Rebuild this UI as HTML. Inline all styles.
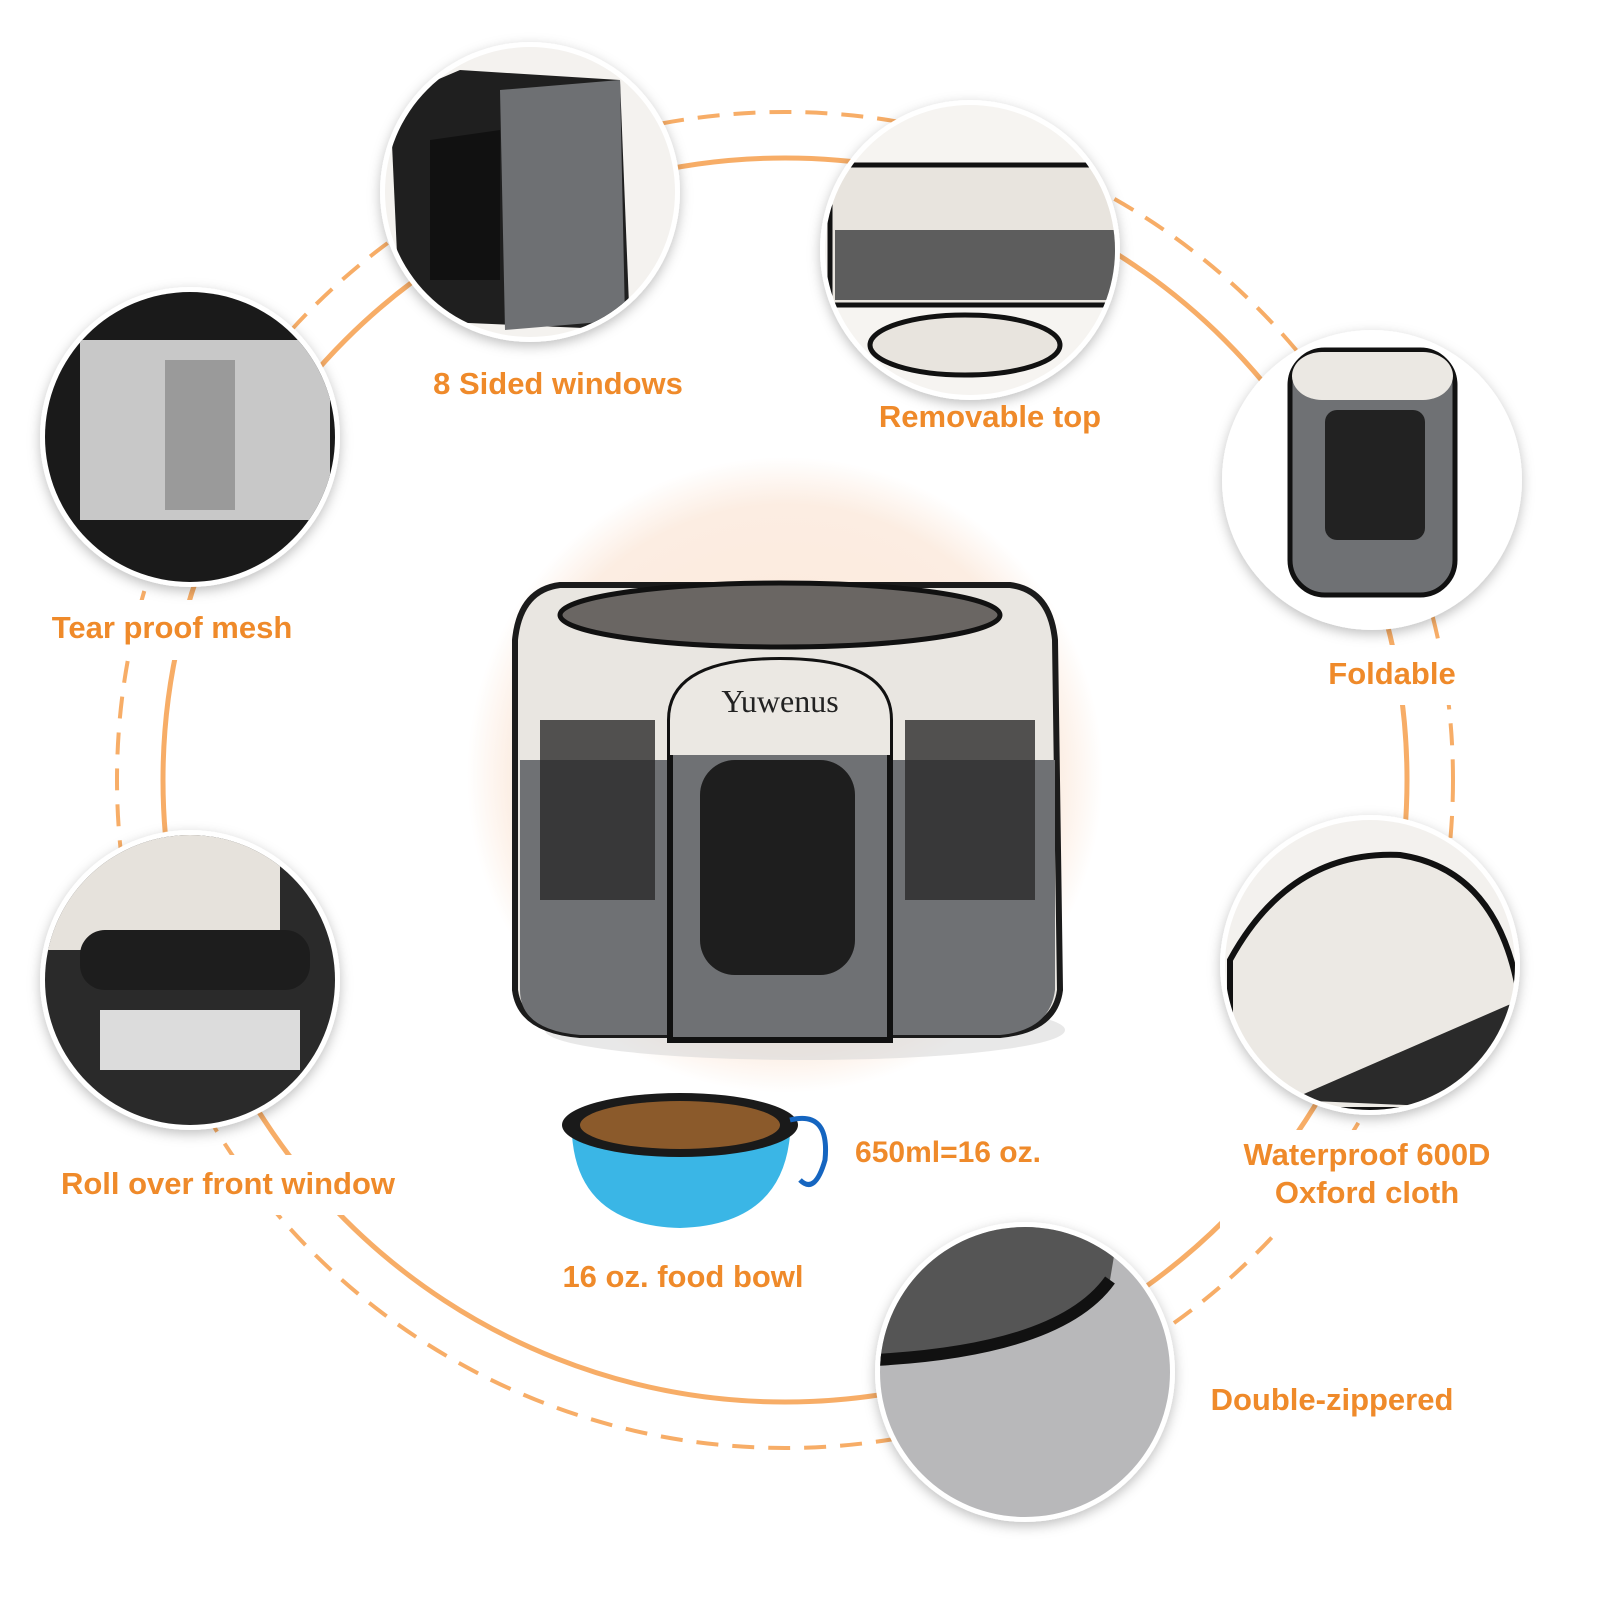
<!DOCTYPE html>
<html><head><meta charset="utf-8"><style>
html,body{margin:0;padding:0;background:#fff;}
body{width:1600px;height:1600px;overflow:hidden;}
text{font-family:"Liberation Sans",sans-serif;font-weight:bold;fill:#ef8a2a;}
</style></head><body>
<svg width="1600" height="1600" viewBox="0 0 1600 1600" xmlns="http://www.w3.org/2000/svg">
<defs>
<radialGradient id="peach" cx="50%" cy="50%" r="50%">
<stop offset="0" stop-color="#fbe7d8"/><stop offset="0.85" stop-color="#fcede2"/><stop offset="1" stop-color="#fff"/>
</radialGradient>
<filter id="sh" x="-20%" y="-20%" width="140%" height="140%"><feDropShadow dx="0" dy="4" stdDeviation="6" flood-color="#000" flood-opacity="0.25"/></filter>
<clipPath id="c1"><circle cx="530" cy="192" r="145"/></clipPath>
<clipPath id="c2"><circle cx="970" cy="250" r="145"/></clipPath>
<clipPath id="c3"><circle cx="190" cy="437" r="145"/></clipPath>
<clipPath id="c4"><circle cx="1372" cy="480" r="145"/></clipPath>
<clipPath id="c5"><circle cx="190" cy="980" r="145"/></clipPath>
<clipPath id="c6"><circle cx="1370" cy="965" r="145"/></clipPath>
<clipPath id="c7"><circle cx="1025" cy="1372" r="145"/></clipPath>
</defs>
<circle cx="785" cy="780" r="622" fill="none" stroke="#f6a457" stroke-width="5" opacity="0.9"/>
<circle cx="785" cy="780" r="668" fill="none" stroke="#f6a457" stroke-width="4" stroke-dasharray="22 14" opacity="0.9"/>
<rect x="410" y="355" width="300" height="60" fill="#fff"/>
<rect x="865" y="385" width="250" height="60" fill="#fff"/>
<rect x="30" y="600" width="290" height="60" fill="#fff"/>
<rect x="1320" y="645" width="150" height="60" fill="#fff"/>
<rect x="30" y="1155" width="400" height="60" fill="#fff"/>
<rect x="1220" y="1130" width="300" height="100" fill="#fff"/>
<rect x="1195" y="1370" width="280" height="60" fill="#fff"/>
<circle cx="785" cy="775" r="318" fill="url(#peach)"/>
<g>
<ellipse cx="805" cy="1030" rx="260" ry="30" fill="#d8d8d8" opacity="0.6"/>
<path d="M515 640 Q520 590 560 585 L1010 585 Q1050 590 1055 640 L1060 990 Q1055 1030 1000 1035 L580 1035 Q520 1030 515 990 Z" fill="#e9e6e1" stroke="#1b1b1b" stroke-width="6"/>
<ellipse cx="780" cy="615" rx="220" ry="32" fill="#6a6663" stroke="#111" stroke-width="5"/>
<path d="M520 760 L1055 760 L1055 990 Q1050 1030 1000 1035 L580 1035 Q520 1030 520 990 Z" fill="#6f7174"/>
<path d="M540 720 L655 720 L655 900 L540 900 Z" fill="#2a2a2a" opacity="0.8"/>
<path d="M905 720 L1035 720 L1035 900 L905 900 Z" fill="#2a2a2a" opacity="0.8"/>
<path d="M670 720 Q670 660 780 660 Q890 660 890 720 L890 1040 L670 1040 Z" fill="#6f7174" stroke="#111" stroke-width="6"/>
<path d="M670 720 Q670 660 780 660 Q890 660 890 720 L890 755 L670 755 Z" fill="#ebe8e3"/>
<rect x="700" y="760" width="155" height="215" rx="35" fill="#1e1e1e"/>
<text x="780" y="712" text-anchor="middle" font-size="32" style="fill:#222;font-weight:normal;font-family:'Liberation Serif',serif">Yuwenus</text>
</g>
<path d="M572 1135 Q578 1225 680 1228 Q782 1225 790 1135 Q680 1170 572 1135 Z" fill="#3ab6e6"/>
<ellipse cx="680" cy="1125" rx="118" ry="32" fill="#1a1a1a"/>
<ellipse cx="680" cy="1125" rx="100" ry="24" fill="#8b5a2b"/>
<path d="M790 1120 Q830 1110 825 1160 Q815 1195 800 1180" fill="none" stroke="#1565c0" stroke-width="5"/>
<g filter="url(#sh)">
<circle cx="530" cy="192" r="150" fill="#fff"/>
<circle cx="970" cy="250" r="150" fill="#fff"/>
<circle cx="190" cy="437" r="150" fill="#fff"/>
<circle cx="1372" cy="480" r="150" fill="#fff"/>
<circle cx="190" cy="980" r="150" fill="#fff"/>
<circle cx="1370" cy="965" r="150" fill="#fff"/>
<circle cx="1025" cy="1372" r="150" fill="#fff"/>
</g>
<g clip-path="url(#c1)">
<rect x="380" y="40" width="300" height="310" fill="#f4f2ef"/>
<path d="M390 100 L460 70 L620 80 L630 330 L400 320 Z" fill="#1f1f1f"/>
<path d="M500 90 L620 80 L625 320 L505 330 Z" fill="#6e7073"/>
<path d="M430 140 L500 130 L500 280 L430 280 Z" fill="#111"/>
</g>
<g clip-path="url(#c2)">
<rect x="820" y="100" width="300" height="300" fill="#f6f4f1"/>
<rect x="830" y="165" width="290" height="140" fill="#e8e4de" stroke="#111" stroke-width="5"/>
<rect x="835" y="230" width="280" height="70" fill="#5d5d5d"/>
<ellipse cx="965" cy="345" rx="95" ry="30" fill="#e8e4de" stroke="#111" stroke-width="5"/>
</g>
<g clip-path="url(#c3)">
<rect x="40" y="290" width="300" height="300" fill="#1a1a1a"/>
<rect x="80" y="340" width="250" height="180" fill="#c8c8c8"/>
<rect x="165" y="360" width="70" height="150" fill="#9a9a9a"/>
</g>
<g clip-path="url(#c4)">
<rect x="1220" y="330" width="305" height="300" fill="#fff"/>
<rect x="1290" y="350" width="165" height="245" rx="35" fill="#6f7174" stroke="#111" stroke-width="5"/>
<rect x="1292" y="352" width="161" height="48" rx="30" fill="#ebe8e3"/>
<rect x="1325" y="410" width="100" height="130" rx="12" fill="#222"/>
</g>
<g clip-path="url(#c5)">
<rect x="40" y="830" width="300" height="300" fill="#2a2a2a"/>
<rect x="40" y="830" width="240" height="120" fill="#e6e2dc"/>
<rect x="80" y="930" width="230" height="60" rx="25" fill="#1d1d1d"/>
<rect x="100" y="1010" width="200" height="60" fill="#dcdcdc"/>
</g>
<g clip-path="url(#c6)">
<rect x="1220" y="815" width="300" height="300" fill="#f3f1ee"/>
<path d="M1230 960 Q1290 850 1400 855 Q1500 870 1520 1000 L1520 1110 L1230 1110 Z" fill="#ece9e4" stroke="#111" stroke-width="6"/>
<path d="M1290 1100 L1520 1000 L1520 1110 Z" fill="#2a2a2a"/>
</g>
<g clip-path="url(#c7)">
<rect x="875" y="1220" width="300" height="300" fill="#b8b8ba"/>
<path d="M875 1220 L1120 1220 L1110 1280 Q1060 1350 875 1360 Z" fill="#555"/>
<path d="M875 1360 Q1060 1350 1110 1280" fill="none" stroke="#111" stroke-width="12"/>
</g>
<text x="558" y="394" text-anchor="middle" font-size="31">8 Sided windows</text>
<text x="990" y="427" text-anchor="middle" font-size="31">Removable top</text>
<text x="172" y="638" text-anchor="middle" font-size="31">Tear proof mesh</text>
<text x="1392" y="684" text-anchor="middle" font-size="31">Foldable</text>
<text x="228" y="1194" text-anchor="middle" font-size="31">Roll over front window</text>
<text x="1367" y="1165" text-anchor="middle" font-size="31">Waterproof 600D</text>
<text x="1367" y="1203" text-anchor="middle" font-size="31">Oxford cloth</text>
<text x="1332" y="1410" text-anchor="middle" font-size="31">Double-zippered</text>
<text x="948" y="1162" text-anchor="middle" font-size="30">650ml=16 oz.</text>
<text x="683" y="1287" text-anchor="middle" font-size="31">16 oz. food bowl</text>
</svg>
</body></html>
